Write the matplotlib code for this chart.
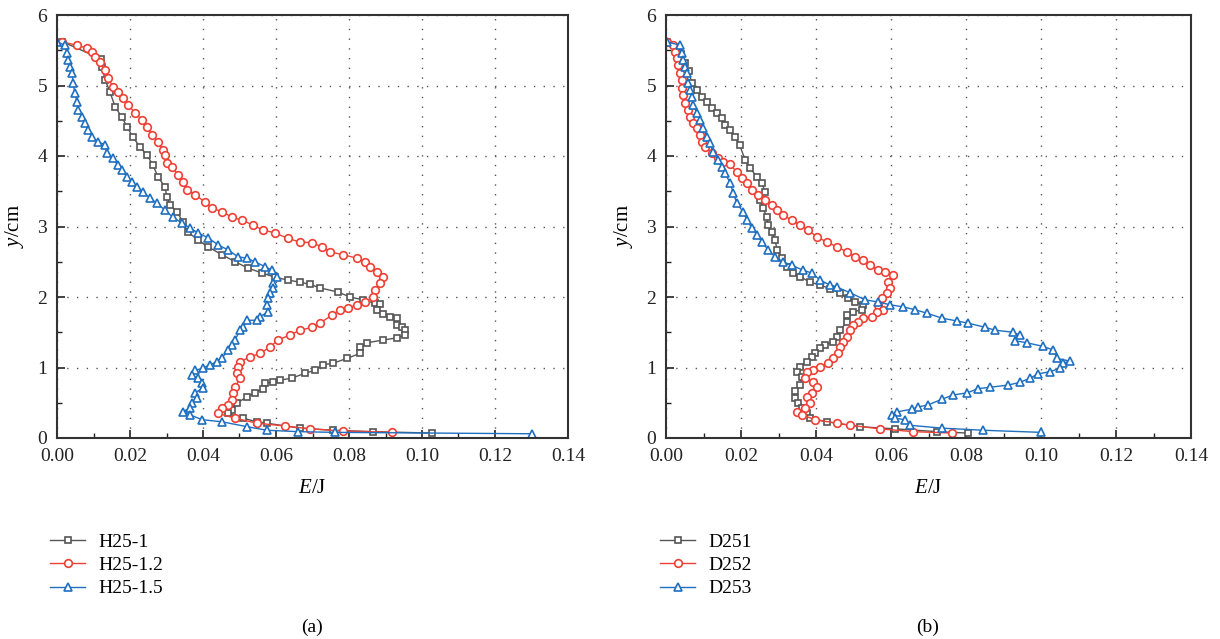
import matplotlib
matplotlib.use('Agg')
import matplotlib.pyplot as plt
from matplotlib.ticker import MultipleLocator, FormatStrFormatter

plt.rcParams['font.family'] = ['Liberation Serif', 'DejaVu Serif']
plt.rcParams['mathtext.fontset'] = 'custom'
plt.rcParams['mathtext.rm'] = 'Liberation Serif'
plt.rcParams['mathtext.it'] = 'Liberation Serif:italic'

# ---- panel (a) ----
h1_e = [0.0015, 0.012, 0.0123, 0.0132, 0.0145, 0.0159, 0.0178, 0.0192, 0.0208, 0.0227,
        0.0247, 0.0263, 0.0277, 0.0296, 0.0301, 0.031, 0.0329, 0.0345, 0.0359, 0.0386,
        0.0414, 0.0452, 0.0488, 0.0523, 0.0562, 0.0597, 0.0633, 0.0666, 0.0693, 0.072,
        0.077, 0.0803, 0.0838, 0.0871, 0.0885, 0.0877, 0.0893, 0.0912, 0.0932, 0.0932,
        0.0945, 0.0953, 0.0953, 0.0932, 0.0893, 0.0849, 0.083, 0.083, 0.0795, 0.0756,
        0.0729, 0.0707, 0.068, 0.0644, 0.0611, 0.0592, 0.057, 0.0564, 0.0542, 0.0521,
        0.0493, 0.048, 0.0468, 0.051, 0.0548, 0.0575, 0.0666, 0.0756, 0.0866, 0.1027]
h1_y = [5.62, 5.38, 5.26, 5.08, 4.91, 4.70, 4.55, 4.41, 4.27, 4.13,
        4.01, 3.87, 3.70, 3.56, 3.42, 3.30, 3.21, 3.06, 2.92, 2.81,
        2.71, 2.60, 2.50, 2.41, 2.34, 2.28, 2.24, 2.21, 2.18, 2.13,
        2.07, 2.00, 1.96, 1.91, 1.90, 1.82, 1.76, 1.72, 1.70, 1.60,
        1.57, 1.53, 1.46, 1.42, 1.39, 1.35, 1.29, 1.20, 1.13, 1.06,
        1.04, 0.96, 0.92, 0.85, 0.82, 0.79, 0.78, 0.70, 0.64, 0.58,
        0.50, 0.40, 0.35, 0.28, 0.23, 0.21, 0.14, 0.11, 0.09, 0.07]

h12_e = [0.0014, 0.0055, 0.0082, 0.0096, 0.0104, 0.0118, 0.0132, 0.014, 0.0153, 0.0167,
         0.0181, 0.0195, 0.0214, 0.0233, 0.0247, 0.026, 0.0277, 0.029, 0.0296, 0.0301,
         0.0315, 0.0332, 0.0345, 0.0356, 0.0378, 0.0405, 0.0425, 0.0452, 0.048, 0.0507,
         0.0537, 0.0564, 0.0597, 0.0633, 0.0666, 0.0699, 0.0726, 0.0748, 0.0784, 0.0822,
         0.0844, 0.0858, 0.0877, 0.0893, 0.0885, 0.0871, 0.0866, 0.0844, 0.0822, 0.0797,
         0.0775, 0.0753, 0.072, 0.0699, 0.0666, 0.0638, 0.0605, 0.0584, 0.0556, 0.0529,
         0.0501, 0.0496, 0.0493, 0.0501, 0.0488, 0.0482, 0.048, 0.0468, 0.0452, 0.0441,
         0.0488, 0.0548, 0.0625, 0.0693, 0.0784, 0.0918]
h12_y = [5.62, 5.57, 5.53, 5.48, 5.40, 5.33, 5.22, 5.11, 4.98, 4.91,
         4.82, 4.72, 4.61, 4.51, 4.41, 4.30, 4.20, 4.09, 4.01, 3.90,
         3.85, 3.73, 3.63, 3.52, 3.45, 3.35, 3.26, 3.21, 3.13, 3.09,
         3.02, 2.95, 2.91, 2.83, 2.78, 2.77, 2.71, 2.64, 2.60, 2.55,
         2.50, 2.43, 2.36, 2.29, 2.20, 2.10, 2.00, 1.93, 1.89, 1.84,
         1.82, 1.74, 1.63, 1.57, 1.53, 1.46, 1.39, 1.29, 1.20, 1.15,
         1.08, 1.01, 0.92, 0.85, 0.72, 0.64, 0.54, 0.47, 0.43, 0.35,
         0.28, 0.21, 0.17, 0.13, 0.10, 0.08]

h15_e = [0.0, 0.0022, 0.0027, 0.003, 0.0036, 0.0041, 0.0044, 0.0049, 0.0055, 0.0058,
         0.0068, 0.0077, 0.0085, 0.0096, 0.0112, 0.0132, 0.0137, 0.0153, 0.0167, 0.0178,
         0.0192, 0.0205, 0.0219, 0.0236, 0.0255, 0.0274, 0.0296, 0.0318, 0.0342, 0.0364,
         0.0386, 0.0414, 0.0441, 0.0468, 0.0496, 0.0521, 0.0542, 0.057, 0.0589, 0.0603,
         0.0592, 0.0592, 0.0584, 0.0578, 0.0575, 0.0578, 0.0556, 0.0548, 0.0521, 0.051,
         0.0501, 0.0488, 0.048, 0.0468, 0.0452, 0.0438, 0.0419, 0.04, 0.0378, 0.037,
         0.0386, 0.0397, 0.04, 0.0378, 0.0384, 0.037, 0.0364, 0.0345, 0.0364, 0.0397,
         0.0452, 0.0521, 0.0575, 0.066, 0.0762, 0.130]
h15_y = [5.62, 5.57, 5.46, 5.36, 5.26, 5.18, 5.04, 4.89, 4.77, 4.65,
         4.55, 4.47, 4.37, 4.27, 4.20, 4.16, 4.04, 3.97, 3.87, 3.80,
         3.70, 3.63, 3.56, 3.49, 3.40, 3.33, 3.23, 3.13, 3.05, 2.98,
         2.91, 2.84, 2.74, 2.67, 2.57, 2.55, 2.50, 2.43, 2.38, 2.29,
         2.20, 2.13, 2.06, 1.99, 1.89, 1.79, 1.72, 1.67, 1.67, 1.57,
         1.53, 1.39, 1.32, 1.25, 1.13, 1.08, 1.04, 0.99, 0.96, 0.89,
         0.85, 0.78, 0.71, 0.64, 0.57, 0.50, 0.43, 0.37, 0.33, 0.26,
         0.23, 0.16, 0.11, 0.09, 0.08, 0.06]

# ---- panel (b) ----
d1_e = [0.0003, 0.003, 0.004, 0.005, 0.006, 0.0069, 0.0083, 0.0096, 0.0109, 0.0123,
        0.0136, 0.0149, 0.0157, 0.0171, 0.0184, 0.0197, 0.0211, 0.0224, 0.0243, 0.0256,
        0.0264, 0.0251, 0.0259, 0.0269, 0.0272, 0.0283, 0.0291, 0.0296, 0.0309, 0.0323,
        0.0339, 0.0357, 0.0384, 0.0411, 0.0437, 0.0464, 0.0485, 0.0504, 0.0525, 0.0523,
        0.0499, 0.0483, 0.0483, 0.0464, 0.0456, 0.0445, 0.0424, 0.0411, 0.0397, 0.0389,
        0.0376, 0.0357, 0.0349, 0.0363, 0.0357, 0.0344, 0.0344, 0.0352, 0.0363, 0.0376,
        0.0384, 0.0429, 0.0517, 0.0611, 0.0723, 0.0805]
d1_y = [5.62, 5.55, 5.45, 5.32, 5.20, 5.04, 4.94, 4.84, 4.77, 4.68,
        4.61, 4.54, 4.44, 4.37, 4.27, 4.15, 3.94, 3.83, 3.70, 3.62,
        3.49, 3.38, 3.26, 3.13, 3.02, 2.92, 2.81, 2.67, 2.55, 2.43,
        2.34, 2.29, 2.21, 2.17, 2.12, 2.05, 1.98, 1.93, 1.89, 1.82,
        1.79, 1.74, 1.65, 1.53, 1.43, 1.36, 1.32, 1.28, 1.20, 1.15,
        1.08, 1.01, 0.94, 0.87, 0.75, 0.66, 0.57, 0.50, 0.43, 0.35,
        0.28, 0.23, 0.16, 0.13, 0.09, 0.07]

d2_e = [0.0003, 0.0019, 0.0024, 0.0029, 0.0032, 0.0037, 0.0043, 0.0043, 0.0045, 0.0051,
        0.0059, 0.0064, 0.0072, 0.0083, 0.0091, 0.0096, 0.0104, 0.0123, 0.0139, 0.0152,
        0.0171, 0.0189, 0.0203, 0.0216, 0.0229, 0.0245, 0.0264, 0.0283, 0.0296, 0.0312,
        0.0336, 0.0357, 0.0379, 0.0403, 0.0429, 0.0456, 0.0483, 0.0504, 0.0525, 0.0544,
        0.0565, 0.0584, 0.0605, 0.0592, 0.0597, 0.0589, 0.0576, 0.0565, 0.0579, 0.0563,
        0.0549, 0.0525, 0.0512, 0.0499, 0.0491, 0.0483, 0.0472, 0.0464, 0.0459, 0.0445,
        0.0432, 0.0411, 0.0392, 0.0376, 0.0371, 0.0392, 0.0403, 0.0389, 0.0376, 0.0384,
        0.0371, 0.0349, 0.0363, 0.0397, 0.0456, 0.0491, 0.0571, 0.0659, 0.0763]
d2_y = [5.62, 5.57, 5.47, 5.39, 5.29, 5.18, 5.08, 4.96, 4.87, 4.75,
        4.65, 4.55, 4.47, 4.40, 4.30, 4.20, 4.13, 4.04, 3.97, 3.91,
        3.88, 3.77, 3.69, 3.62, 3.52, 3.45, 3.38, 3.30, 3.23, 3.16,
        3.09, 3.02, 2.95, 2.85, 2.78, 2.71, 2.64, 2.57, 2.52, 2.45,
        2.38, 2.36, 2.31, 2.21, 2.13, 2.06, 1.99, 1.89, 1.82, 1.79,
        1.72, 1.70, 1.65, 1.60, 1.53, 1.43, 1.36, 1.29, 1.20, 1.13,
        1.06, 1.01, 0.96, 0.94, 0.85, 0.79, 0.72, 0.64, 0.58, 0.50,
        0.43, 0.37, 0.33, 0.26, 0.21, 0.18, 0.13, 0.09, 0.07]

d3_e = [0.0003, 0.0037, 0.0043, 0.0045, 0.0051, 0.0056, 0.0059, 0.0064, 0.0069, 0.0072,
        0.0083, 0.0091, 0.0099, 0.0109, 0.0117, 0.0125, 0.0139, 0.0149, 0.0157, 0.0171,
        0.0179, 0.0189, 0.0205, 0.0216, 0.0229, 0.0243, 0.0256, 0.0272, 0.0291, 0.0312,
        0.0336, 0.0365, 0.0389, 0.0411, 0.0437, 0.0456, 0.0491, 0.0531, 0.0565, 0.0597,
        0.0632, 0.0664, 0.0696, 0.0736, 0.0776, 0.0805, 0.0851, 0.0877, 0.0925, 0.0944,
        0.0931, 0.0963, 0.1005, 0.1032, 0.1043, 0.1077, 0.1059, 0.1051, 0.1024, 0.0992,
        0.0971, 0.0944, 0.0912, 0.0864, 0.0832, 0.0803, 0.0765, 0.0736, 0.0699, 0.0672,
        0.0656, 0.0616, 0.0603, 0.0611, 0.0637, 0.0651, 0.0736, 0.0845, 0.1000]
d3_y = [5.62, 5.57, 5.46, 5.36, 5.26, 5.18, 5.04, 4.94, 4.84, 4.72,
        4.61, 4.51, 4.40, 4.27, 4.18, 4.06, 3.94, 3.84, 3.76, 3.62,
        3.48, 3.33, 3.21, 3.09, 2.98, 2.88, 2.78, 2.67, 2.57, 2.50,
        2.45, 2.38, 2.34, 2.24, 2.17, 2.14, 2.06, 1.96, 1.93, 1.89,
        1.86, 1.82, 1.77, 1.70, 1.66, 1.63, 1.57, 1.53, 1.50, 1.46,
        1.38, 1.35, 1.30, 1.25, 1.13, 1.09, 1.06, 0.99, 0.94, 0.91,
        0.85, 0.79, 0.75, 0.72, 0.70, 0.64, 0.61, 0.55, 0.47, 0.44,
        0.41, 0.37, 0.33, 0.28, 0.26, 0.18, 0.14, 0.11, 0.08]

labels_a = ['H25-1', 'H25-1.2', 'H25-1.5']
labels_b = ['D251', 'D252', 'D253']

colors = ['#555555', '#ee4035', '#1e6fc0']
markers = ['s', 'o', '^']
msizes = [5, 5.5, 5.5]

fig = plt.figure(figsize=(12.2, 6.39), dpi=100)
ax_a = fig.add_axes([57 / 1220, 201 / 639, 511 / 1220, 423 / 639])
ax_b = fig.add_axes([666 / 1220, 201 / 639, 525 / 1220, 423 / 639])


def draw_panel(ax, series, labels, leg_x, tag, tag_x):
    for (e, y), lab, c, m, ms in zip(series, labels, colors, markers, msizes):
        ax.plot(e, y, color=c, marker=m, markersize=ms, markerfacecolor='white',
                markeredgecolor=c, markeredgewidth=1.2, linewidth=1.0, label=lab)
    ax.set_xlim(0, 0.14)
    ax.set_ylim(0, 6)
    ax.xaxis.set_major_locator(MultipleLocator(0.02))
    ax.xaxis.set_minor_locator(MultipleLocator(0.01))
    ax.yaxis.set_major_locator(MultipleLocator(1))
    ax.yaxis.set_minor_locator(MultipleLocator(0.5))
    ax.xaxis.set_major_formatter(FormatStrFormatter('%.2f'))
    ax.tick_params(which='major', direction='in', length=6, width=1.2,
                   labelsize=14, colors='#222222', pad=7)
    ax.tick_params(which='minor', direction='in', length=3.5, width=1.0, colors='#222222')
    for s in ax.spines.values():
        s.set_color('#333333')
        s.set_linewidth(1.5)
    ax.grid(True, which='major', linestyle=(0, (1, 6)), color='#555555', linewidth=1.0)
    ax.set_axisbelow(True)
    ax.set_xlabel(r'$E$/J', fontsize=15, labelpad=10)
    ax.set_ylabel(r'$y$/cm', fontsize=15, labelpad=8)
    ax.legend(loc='upper left', bbox_to_anchor=(leg_x, 0.166), bbox_transform=fig.transFigure,
              frameon=False, fontsize=14, handlelength=1.8, handletextpad=0.7,
              labelspacing=0.3, borderaxespad=0, borderpad=0)
    fig.text(tag_x, 12 / 639, tag, ha='center', va='center', fontsize=14)


draw_panel(ax_a, [(h1_e, h1_y), (h12_e, h12_y), (h15_e, h15_y)], labels_a,
           50 / 1220, '(a)', 312 / 1220)
draw_panel(ax_b, [(d1_e, d1_y), (d2_e, d2_y), (d3_e, d3_y)], labels_b,
           660 / 1220, '(b)', 928 / 1220)

fig.savefig('out.png', dpi=100, facecolor='white')
print("Saved out.png")
